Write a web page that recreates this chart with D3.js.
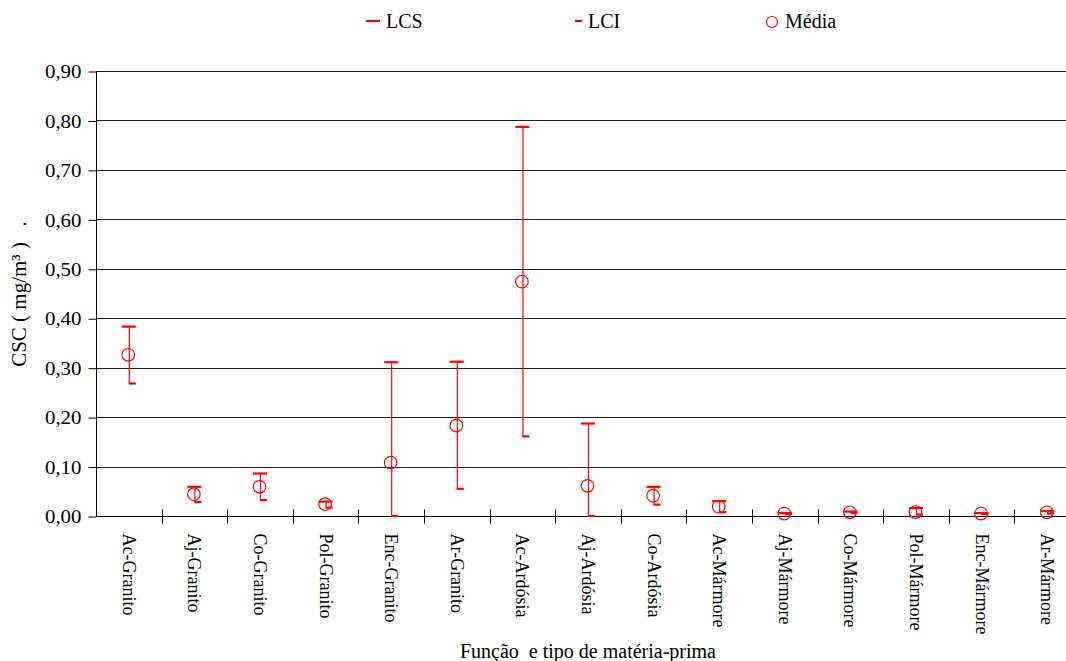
<!DOCTYPE html>
<html>
<head>
<meta charset="utf-8">
<script src="https://cdn.jsdelivr.net/npm/d3@7"></script>
<style>
  body { margin: 0; background: #fff; }
  svg text { font-family: "Liberation Serif", "Times New Roman", serif !important; fill: #000; }
</style>
</head>
<body>
<script>
// chart data
let categories = ['Ac-Granito', 'Aj-Granito', 'Co-Granito', 'Pol-Granito', 'Enc-Granito',
  'Ar-Granito', 'Ac-Ardósia', 'Aj-Ardósia', 'Co-Ardósia', 'Ac-Mármore',
  'Aj-Mármore', 'Co-Mármore', 'Pol-Mármore', 'Enc-Mármore', 'Ar-Mármore'];
let media = [0.326, 0.044, 0.059, 0.024, 0.108, 0.183, 0.474, 0.061, 0.041, 0.019,
  0.005, 0.0075, 0.008, 0.005, 0.0075];
let lcs = [0.383, 0.059, 0.086, 0.029, 0.311, 0.312, 0.787, 0.187, 0.059, 0.030,
  0.006, 0.009, 0.016, 0.006, 0.010];
let lci = [0.268, 0.028, 0.032, 0.017, 0.0, 0.055, 0.161, 0.0, 0.023, 0.0075,
  0.004, 0.006, 0.003, 0.004, 0.005];
let yTicks = [0, 0.1, 0.2, 0.3, 0.4, 0.5, 0.6, 0.7, 0.8, 0.9];

let svgWidth = 1066;
let svgHeight = 661;
let margin = { top: 71, left: 96, bottom: 145 };
let plotRight = 1080;   // the original plot runs past the right edge of the picture
let chartHeight = svgHeight - margin.top - margin.bottom;

let svg = d3.select('body')
  .append('svg')
  .attr('width', svgWidth)
  .attr('height', svgHeight)
  .attr('font-family', '"Liberation Serif", serif');

let xScale = d3.scaleBand()
  .domain(categories)
  .range([margin.left, plotRight])
  .padding(0);

let yScale = d3.scaleLinear()
  .domain([0, 0.9])
  .range([margin.top + chartHeight, margin.top]);

let fmt = d => d3.format('.2f')(d).replace('.', ',');

// gridlines
svg.append('g')
  .selectAll('line')
  .data(yTicks.slice(1))
  .enter()
  .append('line')
  .attr('x1', margin.left)
  .attr('x2', plotRight)
  .attr('y1', d => Math.round(yScale(d)) + 0.5)
  .attr('y2', d => Math.round(yScale(d)) + 0.5)
  .attr('stroke', '#222')
  .attr('stroke-width', 1);

// y axis
let yAxis = d3.axisLeft(yScale)
  .tickValues(yTicks)
  .tickFormat(fmt)
  .tickSize(8)
  .tickPadding(7);
let yG = svg.append('g')
  .attr('transform', `translate(${margin.left + 0.5}, 0.5)`)
  .call(yAxis)
  .attr('font-family', null)
  .attr('font-size', 19);
yG.select('.domain').attr('stroke', '#000').attr('d', `M0,${yScale(0.9)}V${yScale(0)}`);
yG.selectAll('.tick text')
  .attr('transform', 'scale(1.1,1)')
  .attr('x', -15 / 1.1)
  .attr('dy', '0.33em');

// x axis: labels
let xAxis = d3.axisBottom(xScale).tickSize(0).tickPadding(0);
let xG = svg.append('g')
  .attr('transform', `translate(0, ${yScale(0) + 0.5})`)
  .call(xAxis)
  .attr('font-family', null)
  .attr('font-size', 18);
xG.select('.domain').attr('stroke', '#000').attr('d', `M${margin.left},0H${plotRight}`);
xG.selectAll('.tick text')
  .attr('transform', 'rotate(90)')
  .attr('x', 17)
  .attr('y', 0)
  .attr('dy', '0.33em')
  .attr('text-anchor', 'start');

// x axis: ticks at category boundaries
xG.append('g')
  .selectAll('line')
  .data(categories.slice(1))
  .enter()
  .append('line')
  .attr('x1', d => Math.round(xScale(d)) + 0.5)
  .attr('x2', d => Math.round(xScale(d)) + 0.5)
  .attr('y1', -7)
  .attr('y2', 7)
  .attr('stroke', '#000');

// axis titles
svg.append('text')
  .attr('x', 588)
  .attr('y', 658)
  .attr('text-anchor', 'middle')
  .attr('font-size', 20)
  .text('Função  e tipo de matéria-prima')
  .style('white-space', 'pre');

svg.append('text')
  .attr('transform', 'translate(26, 294) rotate(-90)')
  .attr('text-anchor', 'middle')
  .attr('font-size', 21)
  .style('white-space', 'pre')
  .text('CSC ( mg/m³ )   .');

// error bars
let points = categories.map((c, i) => ({ cat: c, m: media[i], hi: lcs[i], lo: lci[i] }));
let cx = d => xScale(d.cat) + xScale.bandwidth() / 2;
let red = '#ff0000';

let bars = svg.append('g');
bars.selectAll('.err')
  .data(points)
  .enter()
  .append('line')
  .attr('x1', d => cx(d) + 0.5)
  .attr('x2', d => cx(d) + 0.5)
  .attr('y1', d => yScale(d.hi))
  .attr('y2', d => yScale(d.lo))
  .attr('stroke', red)
  .attr('stroke-width', 1.2);

bars.selectAll('.lcs')
  .data(points)
  .enter()
  .append('line')
  .attr('x1', d => cx(d) - 7)
  .attr('x2', d => cx(d) + 7)
  .attr('y1', d => yScale(d.hi))
  .attr('y2', d => yScale(d.hi))
  .attr('stroke', red)
  .attr('stroke-width', 2.2);

bars.selectAll('.lci')
  .data(points)
  .enter()
  .append('line')
  .attr('x1', d => cx(d))
  .attr('x2', d => cx(d) + 7)
  .attr('y1', d => yScale(d.lo))
  .attr('y2', d => yScale(d.lo))
  .attr('stroke', red)
  .attr('stroke-width', 2.2);

bars.selectAll('circle')
  .data(points)
  .enter()
  .append('circle')
  .attr('cx', d => cx(d) - 0.5)
  .attr('cy', d => yScale(d.m))
  .attr('r', 6.3)
  .attr('fill', 'none')
  .attr('stroke', red)
  .attr('stroke-width', 1.2);

// legend
let legend = svg.append('g').attr('font-size', 20);
legend.append('line')
  .attr('x1', 366).attr('x2', 380).attr('y1', 21).attr('y2', 21)
  .attr('stroke', red).attr('stroke-width', 2.2);
legend.append('text').attr('x', 386).attr('y', 28).text('LCS');
legend.append('line')
  .attr('x1', 575).attr('x2', 582).attr('y1', 21).attr('y2', 21)
  .attr('stroke', red).attr('stroke-width', 2.2);
legend.append('text').attr('x', 588).attr('y', 28).text('LCI');
legend.append('circle')
  .attr('cx', 772).attr('cy', 22).attr('r', 5.5)
  .attr('fill', 'none').attr('stroke', red).attr('stroke-width', 1.2);
legend.append('text').attr('x', 785).attr('y', 28).text('Média');
</script>
</body>
</html>
